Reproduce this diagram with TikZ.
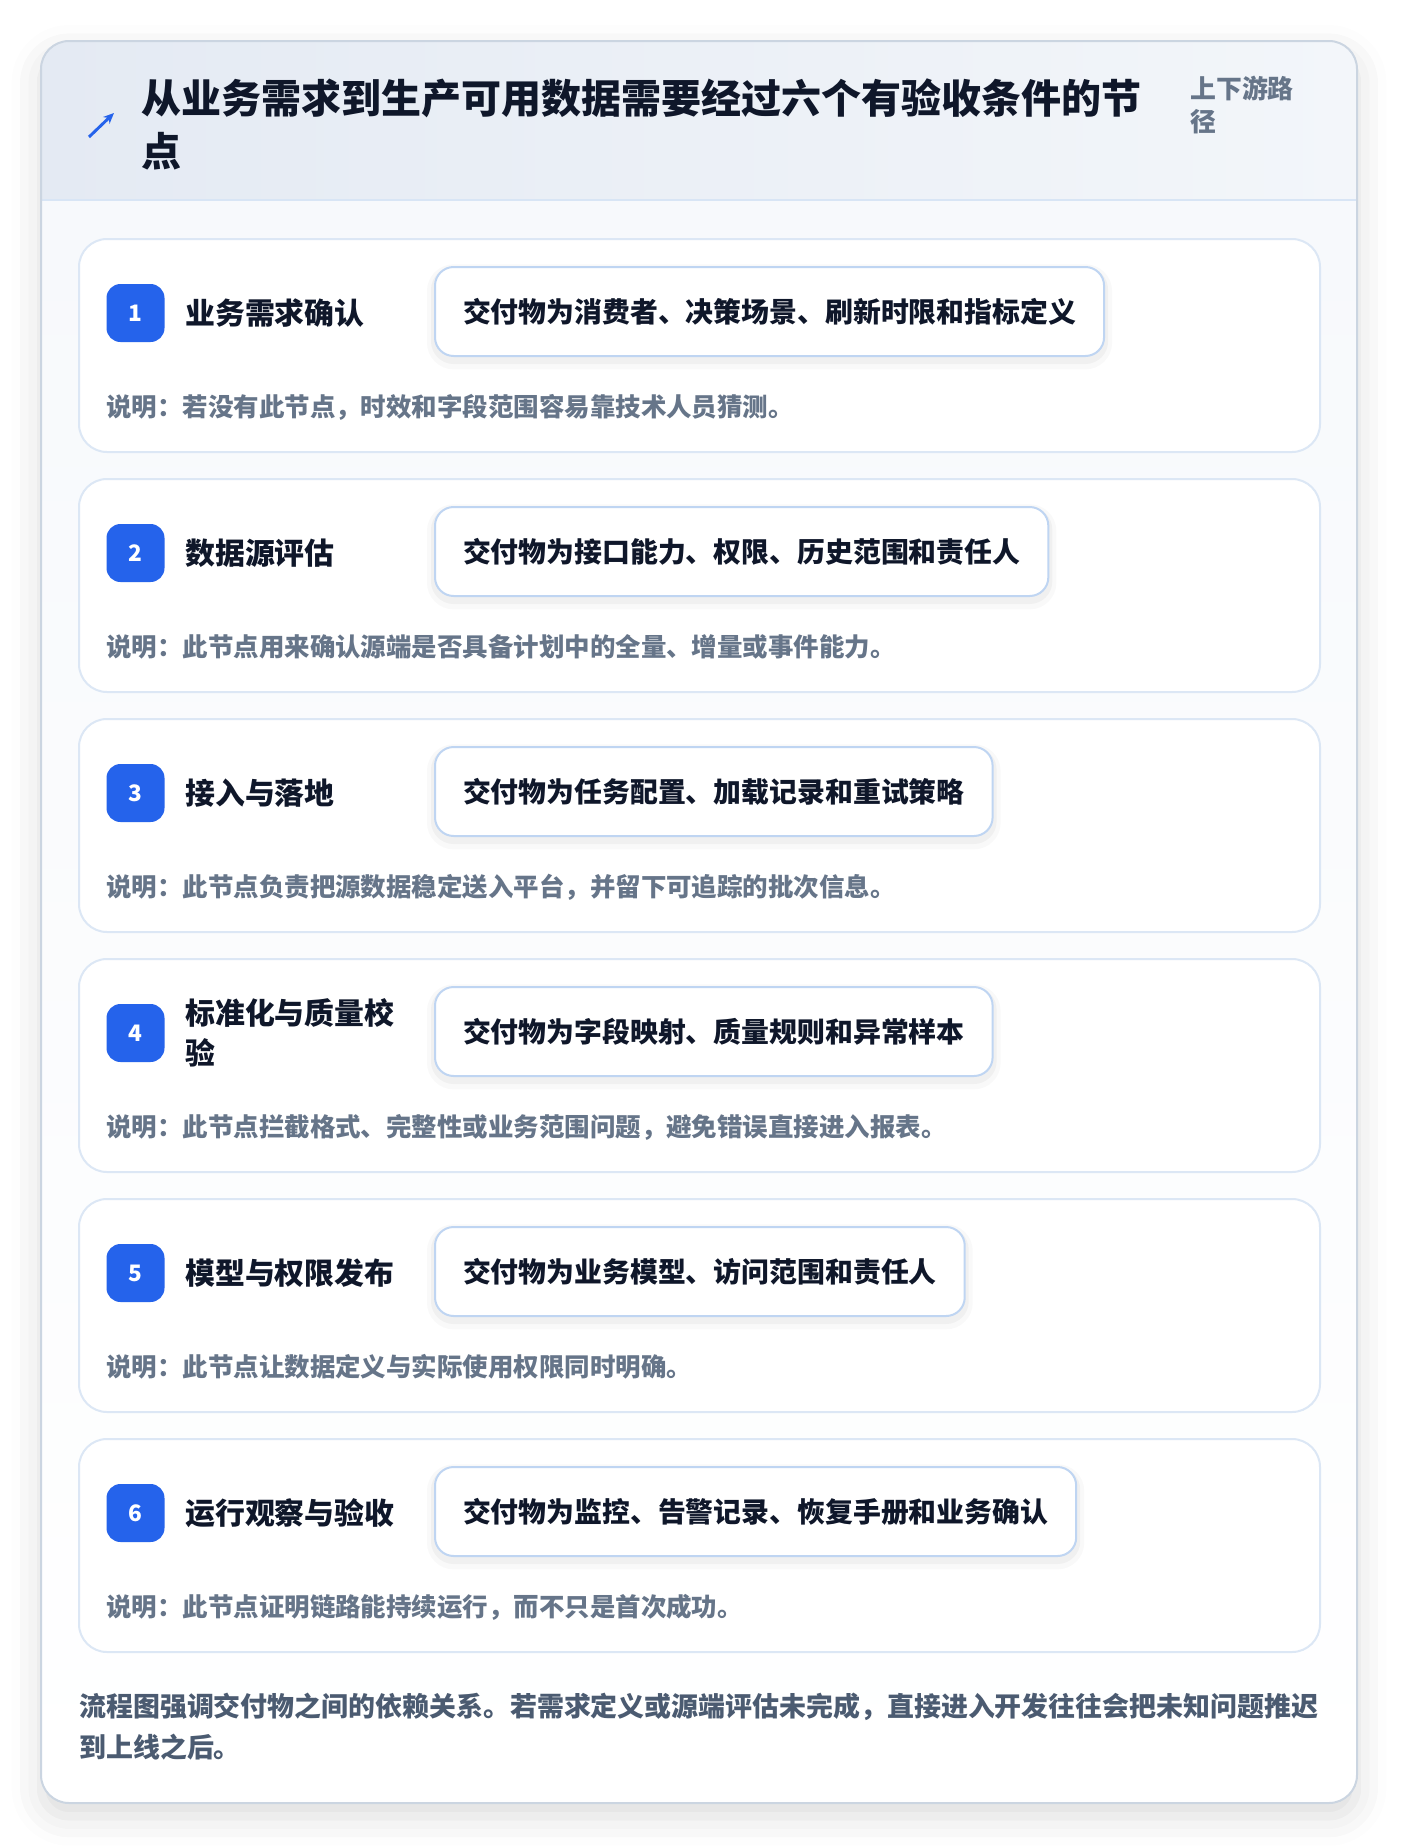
\documentclass[tikz,border=0pt]{standalone}
\usepackage{fontspec}
\setmainfont{Noto Sans CJK SC}
\usetikzlibrary{arrows.meta,positioning,shadows.blur}

\definecolor{frameline}{HTML}{CBD5E1}
\definecolor{hdrleft}{HTML}{E4EAF3}
\definecolor{hdrright}{HTML}{F3F6FA}
\definecolor{hdrrule}{HTML}{D8E5F5}
\definecolor{bodytop}{HTML}{F7F9FC}
\definecolor{cardline}{HTML}{DCE7F5}
\definecolor{boxline}{HTML}{BFD5F2}
\definecolor{badgeblue}{HTML}{2563EB}
\definecolor{inkdark}{HTML}{0F172A}
\definecolor{inkmuted}{HTML}{667589}
\definecolor{inkfoot}{HTML}{4B5B71}

\tikzset{
  stepcard/.style={draw=cardline, fill=white, line width=1.5pt, rounded corners=21pt},
  badge/.style={fill=badgeblue, text=white, rounded corners=10.5pt, minimum size=43.5pt, inner sep=0pt,
    font=\fontsize{17}{17}\selectfont\bfseries},
  steptitle/.style={text=inkdark, inner sep=0pt, align=left, font=\fontsize{22.4}{30}\selectfont\bfseries},
  dlvbox/.style={draw=boxline, fill=white, line width=1.5pt, rounded corners=14pt, inner xsep=21pt,
    minimum height=66.75pt, text=inkdark, font=\fontsize{20.9}{20.9}\selectfont\bfseries,
    preaction={draw=black, draw opacity=0.025, line width=12pt, transform canvas={yshift=-4pt}},
    preaction={draw=black, draw opacity=0.035, line width=6pt, transform canvas={yshift=-3pt}}},
  stepnote/.style={text=inkmuted, inner sep=0pt, font=\fontsize{19.1}{19.1}\selectfont\bfseries},
  headtitle/.style={text=inkdark, inner sep=0pt, align=left, font=\fontsize{30}{39.75}\selectfont\bfseries},
  sidetag/.style={text=inkmuted, inner sep=0pt, align=left, font=\fontsize{19.4}{24.75}\selectfont\bfseries},
  footnote/.style={text=inkfoot, inner sep=0pt, align=left, font=\fontsize{20.2}{30.75}\selectfont\bfseries},
}

\begin{document}
\begin{tikzpicture}[x=0.75pt, y=-0.75pt]
\useasboundingbox (0,0) rectangle (1400,1846);

% outer frame with header band
\fill[white, rounded corners=21pt, blur shadow={shadow xshift=0pt, shadow yshift=-10pt,
  shadow blur radius=22pt, shadow opacity=14}] (41,41) rectangle (1357,1803);
\begin{scope}
  \clip[rounded corners=21pt] (41,41) rectangle (1357,1803);
  \shade[top color=bodytop, bottom color=white] (41,200) rectangle (1357,1803);
  \shade[left color=hdrleft, right color=hdrright] (41,41) rectangle (1357,200);
  \draw[hdrrule, line width=1.5pt] (41,200) -- (1357,200);
\end{scope}
\draw[frameline, line width=1.5pt, rounded corners=21pt] (41,41) rectangle (1357,1803);

% header
\coordinate (arrowtail) at (89,137);
\coordinate (arrowtip) at (114,113);
\draw[badgeblue, line width=2.2pt, -{Stealth[length=8pt,width=7pt]}] (arrowtail) -- (arrowtip);
\node[headtitle, anchor=west] (title) at (141,124) {从业务需求到生产可用数据需要经过六个有验收条件的节\\点};
\node[sidetag, anchor=west] (tag) at (1190,104.5) {上下游路\\径};

% six steps
\foreach \ttl/\dlv/\note [count=\k] in {
  {业务需求确认}/{交付物为消费者、决策场景、刷新时限和指标定义}/{说明：若没有此节点，时效和字段范围容易靠技术人员猜测。},
  {数据源评估}/{交付物为接口能力、权限、历史范围和责任人}/{说明：此节点用来确认源端是否具备计划中的全量、增量或事件能力。},
  {接入与落地}/{交付物为任务配置、加载记录和重试策略}/{说明：此节点负责把源数据稳定送入平台，并留下可追踪的批次信息。},
  {标准化与质量校\\验}/{交付物为字段映射、质量规则和异常样本}/{说明：此节点拦截格式、完整性或业务范围问题，避免错误直接进入报表。},
  {模型与权限发布}/{交付物为业务模型、访问范围和责任人}/{说明：此节点让数据定义与实际使用权限同时明确。},
  {运行观察与验收}/{交付物为监控、告警记录、恢复手册和业务确认}/{说明：此节点证明链路能持续运行，而不只是首次成功。}}{
  \begin{scope}[shift={(0,{240*(\k-1)})}]
    \draw[stepcard] (79,239) rectangle (1320,452);
    \node[badge] (badge\k) at (135.5,313) {\k};
    \node[steptitle, anchor=west] (step\k) at (185,313) {\ttl};
    \node[dlvbox, anchor=west] (dlv\k) at (434,311.5) {\dlv};
    \node[stepnote, anchor=west] (note\k) at (106,407) {\note};
  \end{scope}}

% closing remark
\node[footnote, anchor=west] (remark) at (79,1726.5)
  {流程图强调交付物之间的依赖关系。若需求定义或源端评估未完成，直接进入开发往往会把未知问题推迟\\到上线之后。};
\end{tikzpicture}
\end{document}
